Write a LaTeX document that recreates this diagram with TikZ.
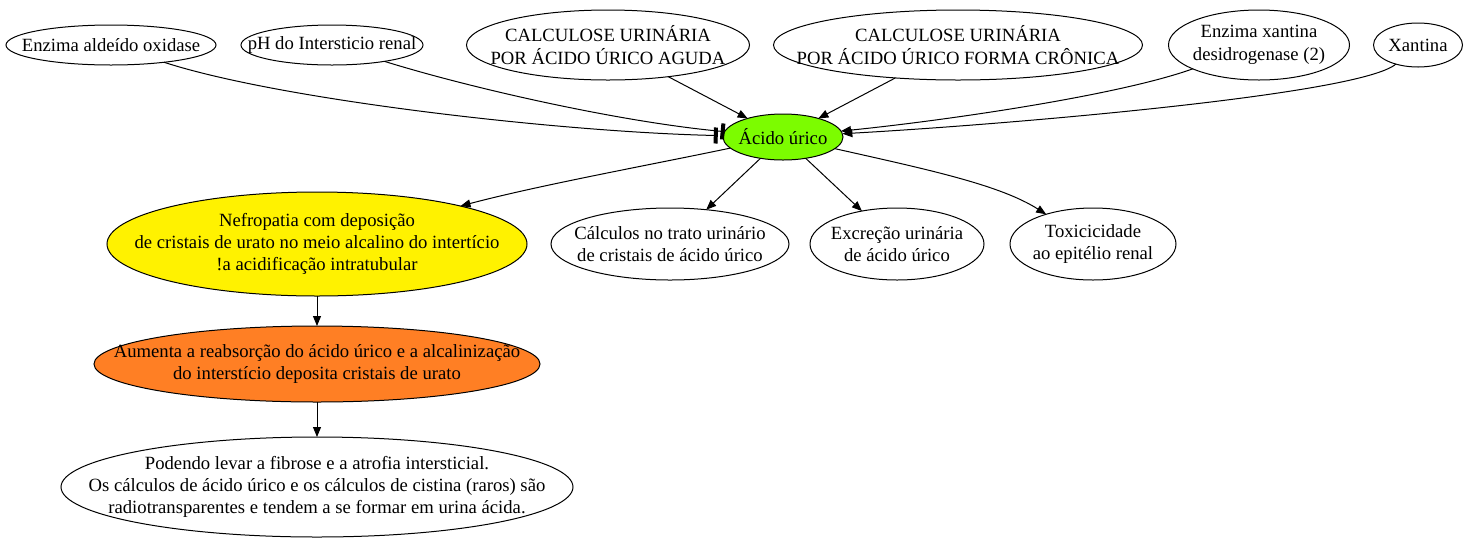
\documentclass[tikz,border=0pt]{standalone}
\usepackage{fontspec}
\setmainfont{Liberation Serif}
\usetikzlibrary{shapes.geometric,arrows.meta}
\definecolor{lgreen}{HTML}{7CFC00}
\definecolor{dorange}{HTML}{FF7F24}
\tikzset{
  ell/.style 2 args={ellipse,draw,line width=0.75pt,inner sep=-250pt,outer sep=0pt,
    minimum width=#1*0.75pt,minimum height=#2*0.75pt,align=center,
    font=\fontsize{14}{16.8}\selectfont},
  arr/.style={line width=0.75pt,-{Triangle[length=7.5pt,width=6pt]}},
  teearr/.style={line width=0.75pt,-{Rectangle[length=3pt,width=12pt]}}
}
\begin{document}
\begin{tikzpicture}[x=0.75pt,y=0.75pt]
\useasboundingbox (0,0) rectangle (1472,-544);
\node[ell={210}{40}] (ald) at (111,-45) {Enzima aldeído oxidase};
\node[ell={182}{40}] (ph) at (332,-45) {pH do Intersticio renal};
\node[ell={283}{70}] (agu) at (608,-45) {CALCULOSE URINÁRIA\\POR ÁCIDO ÚRICO AGUDA};
\node[ell={369}{70}] (cro) at (958,-45) {CALCULOSE URINÁRIA\\POR ÁCIDO ÚRICO FORMA CRÔNICA};
\node[ell={181}{70}] (xd) at (1259,-45) {Enzima xantina\\desidrogenase (2)};
\node[ell={89}{44}] (xan) at (1418,-45) {Xantina};
\node[ell={120}{46},fill=lgreen] (acido) at (783,-137) {Ácido úrico};
\node[ell={420}{104},fill=yellow] (nef) at (317,-244) {Nefropatia com deposição\\de cristais de urato no meio alcalino do intertício\\!a acidificação intratubular};
\node[ell={238}{72}] (calc) at (670,-244) {Cálculos no trato urinário\\de cristais de ácido úrico};
\node[ell={174}{72}] (exc) at (897,-244) {Excreção urinária\\de ácido úrico};
\node[ell={166}{72}] (tox) at (1093,-244) {Toxicicidade\\ao epitélio renal};
\node[ell={446}{76},fill=dorange] (aum) at (317,-364) {Aumenta a reabsorção do ácido úrico e a alcalinização\\do interstício deposita cristais de urato};
\node[ell={512}{100}] (pod) at (317,-487) {Podendo levar a fibrose e a atrofia intersticial.\\Os cálculos de ácido úrico e os cálculos de cistina (raros) são\\radiotransparentes e tendem a se formar em urina ácida.};

\coordinate (a1) at (280,-100);
\coordinate (a2) at (560,-132);
\coordinate (p1) at (470,-88);
\coordinate (p2) at (620,-122);
\coordinate (x1) at (1120,-95);
\coordinate (x2) at (950,-120);
\coordinate (y1) at (1360,-95);
\coordinate (y2) at (1000,-125);
\coordinate (n1) at (650,-165);
\coordinate (n2) at (540,-185);
\coordinate (t1) at (930,-170);
\coordinate (t2) at (1000,-185);

\draw[teearr,shorten >=4pt] (ald) .. controls (a1) and (a2) .. (acido);
\draw[teearr] (ph) .. controls (p1) and (p2) .. (acido);
\draw[arr] (agu) -- (acido);
\draw[arr] (cro) -- (acido);
\draw[arr] (xd) .. controls (x1) and (x2) .. (acido);
\draw[arr] (xan) .. controls (y1) and (y2) .. (acido);
\draw[arr] (acido) .. controls (n1) and (n2) .. (nef);
\draw[arr] (acido) -- (calc);
\draw[arr] (acido) -- (exc);
\draw[arr] (acido) .. controls (t1) and (t2) .. (tox);
\draw[arr] (nef) -- (aum);
\draw[arr] (aum) -- (pod);
\end{tikzpicture}
\end{document}
